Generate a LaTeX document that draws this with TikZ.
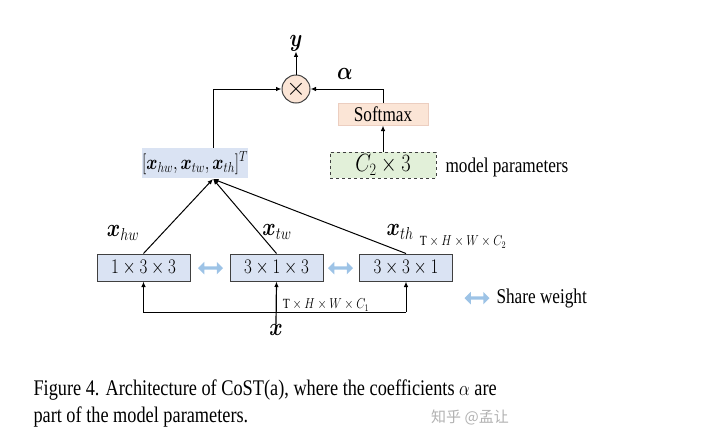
\documentclass[tikz,border=0pt]{standalone}
\usepackage{amsmath,bm}
\usepackage{fontspec}
\setmainfont{Liberation Serif}
\newfontfamily\narrowfont[FakeStretch=0.82]{Liberation Serif}
\newfontfamily\cjk{Noto Sans CJK SC}
\usetikzlibrary{arrows.meta,shapes.arrows,calc}
\definecolor{convblue}{RGB}{218,227,243}
\definecolor{softpeach}{RGB}{251,229,214}
\definecolor{softedge}{RGB}{236,206,192}
\definecolor{parmgreen}{RGB}{226,240,217}
\definecolor{sharecol}{RGB}{157,195,230}
\definecolor{edgegray}{RGB}{64,64,64}
\newcommand\narrowmath[1]{\scalebox{0.82}[1]{#1}}

\begin{document}
\begin{tikzpicture}[x=1pt,y=-1pt,>={Latex[length=5.5pt,width=4.5pt]},line width=1pt,
    conv/.style={draw=edgegray,fill=convblue,minimum width=93pt,
      minimum height=27pt,inner sep=0pt,font=\fontsize{22}{22}\selectfont},
    share/.style={double arrow,fill=sharecol,minimum width=12.5pt,minimum height=25pt,
      double arrow head extend=1.5pt,inner sep=0pt},
    lbl/.style={font=\fontsize{23}{23}\selectfont,inner sep=0pt},
    dims/.style={font=\fontsize{14}{14}\selectfont,inner sep=0pt},
    txt/.style={font=\narrowfont\fontsize{21}{21}\selectfont,inner sep=0pt}]
  \useasboundingbox (0,0) rectangle (720,445);%

  % three conv branches
  \foreach \n/\cx/\k in {hw/143.5/{1\times3\times3}, tw/276.5/{3\times1\times3},
    th/406/{3\times3\times1}} {%
    \node[conv] (c\n) at (\cx,267.5) {\narrowmath{$\k$}}; }%
  \node[lbl] (lhw) at (123,233) {\narrowmath{$\bm{x}_{hw}$}};%
  \node[lbl] (ltw) at (277,232) {\narrowmath{$\bm{x}_{tw}$}};%
  \node[lbl] (lth) at (400,232) {\narrowmath{$\bm{x}_{th}$}};%
  \node[dims] (dout) at (463,242) {\narrowmath{$\mathrm{T}\times H\times W\times C_2$}};%
  \node[share] (s1) at (210.5,268) {};%
  \node[share] (s2) at (340.5,268) {};%

  % input
  \node[lbl] (in) at (276,330) {\narrowmath{$\bm{x}$}};%
  \coordinate (bus) at (276,312);%
  \node[dims] (din) at (326,305) {\narrowmath{$\mathrm{T}\times H\times W\times C_1$}};%
  \draw[->,line width=1.2pt] (in.north) -- (ctw.south);%
  \draw[->] (cth.south |- bus) -- (chw.south |- bus) -- (chw.south);%
  \draw[->] (cth.south |- bus) -- (cth.south);%

  % concat and output
  \node[fill=convblue,minimum width=101pt,minimum height=30pt,inner sep=0pt,
    font=\fontsize{20}{20}\selectfont] (cat) at (195,163)
    {\narrowmath{$[\bm{x}_{hw},\bm{x}_{tw},\bm{x}_{th}]^T$}};%
  \coordinate (merge) at (213,179);%
  \foreach \n in {hw,tw,th} \draw[->] (c\n.north) -- (merge);%
  \node[circle,draw=edgegray,fill=softpeach,minimum size=28pt,
    inner sep=0pt,font=\fontsize{24}{24}\selectfont] (mult) at (296,89) {$\times$};%
  \node[lbl] (out) at (296,43) {\narrowmath{$\bm{y}$}};%
  \draw[->] (mult.north) -- (out.south);%
  \draw[->] ([xshift=18pt]cat.north) |- (mult.west);%

  % learned coefficients
  \node[draw=softedge,fill=softpeach,minimum width=90pt,minimum height=22pt,
    inner sep=0pt,txt] (soft) at (383,114) {Softmax};%
  \node[draw=edgegray,dashed,fill=parmgreen,minimum width=106pt,
    minimum height=26pt,inner sep=0pt,font=\fontsize{24}{24}\selectfont]
    (parm) at (383,165) {\narrowmath{$C_2\times3$}};%
  \node[txt,anchor=west] (parmtxt) at (445,167) {model parameters};%
  \node[lbl] (alpha) at (345,74) {\narrowmath{$\bm{\alpha}$}};%
  \draw[->] (parm.north) -- (soft.south);%
  \draw[->] (soft.north) |- (mult.east);%

  % legend
  \node[share] (s3) at (477,298) {};%
  \node[txt,anchor=west] (sharetxt) at (496,298) {Share weight};%

  % caption
  \node[anchor=west,inner sep=0pt,font=\narrowfont\fontsize{22.3}{22.3}\selectfont]
    (cap1) at (33,390) {Figure 4. Architecture of CoST(a), where the coefficients
    \narrowmath{$\alpha$} are};%
  \node[anchor=west,inner sep=0pt,font=\narrowfont\fontsize{22.3}{22.3}\selectfont]
    (cap2) at (33,417) {part of the model parameters.};%
  \node[text=black!30,inner sep=0pt,font=\cjk\fontsize{15}{15}\selectfont] (mark)
    at (470,417) {知乎 @孟让};%
\end{tikzpicture}
\end{document}
